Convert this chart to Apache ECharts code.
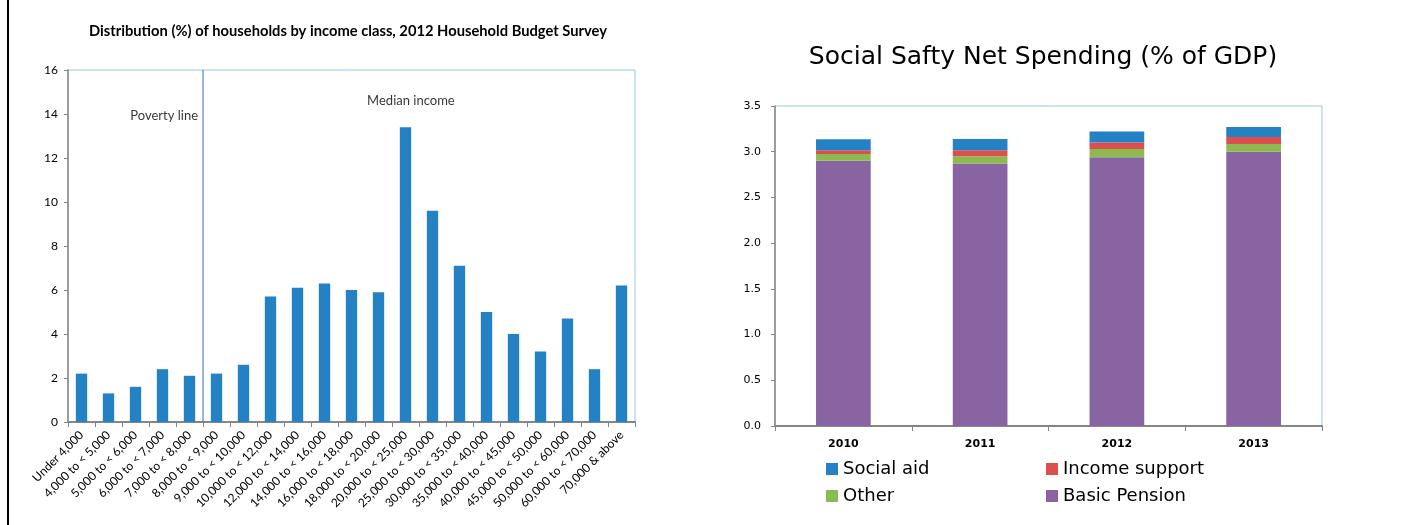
<!DOCTYPE html>
<html>
<head>
<meta charset="utf-8">
<script src="https://cdn.jsdelivr.net/npm/echarts@6/dist/echarts.min.js"></script>
<style>
  html, body { margin: 0; padding: 0; background: #fff; }
  #chart { width: 1415px; height: 525px; }
  #edge { position: absolute; left: 7px; top: 0; width: 2px; height: 525px; background: #000; }
</style>
</head>
<body>
<div id="chart"></div>
<div id="edge"></div>
<script>
// Household income distribution, 2012 Household Budget Survey
const incomeClasses = [
  'Under 4,000', '4,000 to < 5,000', '5,000 to < 6,000', '6,000 to < 7,000',
  '7,000 to < 8,000', '8,000 to < 9,000', '9,000 to < 10,000', '10,000 to < 12,000',
  '12,000 to < 14,000', '14,000 to < 16,000', '16,000 to < 18,000', '18,000 to < 20,000',
  '20,000 to < 25,000', '25,000 to < 30,000', '30,000 to < 35,000', '35,000 to < 40,000',
  '40,000 to < 45,000', '45,000 to < 50,000', '50,000 to < 60,000', '60,000 to < 70,000',
  '70,000 & above'
];
const householdShare = [2.2, 1.3, 1.6, 2.4, 2.1, 2.2, 2.6, 5.7, 6.1, 6.3, 6.0, 5.9,
  13.4, 9.6, 7.1, 5.0, 4.0, 3.2, 4.7, 2.4, 6.2];
// Poverty line sits after the first five income classes
const povertyLineAfterClass = 5;

// Social safety net spending, % of GDP
const years = ['2010', '2011', '2012', '2013'];
const basicPension = [2.90, 2.87, 2.94, 3.00];
const otherSpending = [0.075, 0.08, 0.09, 0.085];
const incomeSupport = [0.04, 0.065, 0.07, 0.075];
const socialAid = [0.12, 0.125, 0.12, 0.11];

const HUMANIST = 'Lato, "Open Sans", sans-serif';
const WIDE = '"DejaVu Sans", Verdana, sans-serif';
const AXIS_GRAY = '#868686';
const FRAME_BLUE = '#9cc3e4';

const chart = echarts.init(document.getElementById('chart'), null, { renderer: 'canvas' });

function legendAt(name, left, top) {
  return {
    data: [name], left: left, top: top, padding: 0,
    icon: 'rect', itemWidth: 12, itemHeight: 12, itemGap: 0,
    textStyle: { fontFamily: WIDE, fontSize: 18, color: '#000' },
    selectedMode: false
  };
}

chart.setOption({
  animation: false,
  backgroundColor: '#fff',
  title: [
    {
      text: 'Social Safty Net Spending (% of GDP)',
      left: 1043, top: 45, textAlign: 'center', padding: 0,
      textStyle: { fontFamily: WIDE, fontWeight: 'normal', fontSize: 25, color: '#000' }
    }
  ],
  // Left-hand heading, set in a bold face and slightly narrowed
  graphic: [
    {
      type: 'text', x: 348, y: 31, scaleX: 0.92, silent: true,
      style: {
        text: 'Distribution (%) of households by income class, 2012 Household Budget Survey',
        align: 'center', verticalAlign: 'middle',
        textAlign: 'center', textVerticalAlign: 'middle',
        font: 'bold 16px Lato, "Open Sans", sans-serif', fill: '#000'
      }
    }
  ],
  legend: [
    legendAt('Social aid', 826, 460),
    legendAt('Income support', 1046, 460),
    legendAt('Other', 826, 487),
    legendAt('Basic Pension', 1046, 487)
  ],
  grid: [
    { left: 68, top: 70, width: 567, height: 352, show: true, borderColor: FRAME_BLUE, borderWidth: 1, backgroundColor: 'transparent' },
    { left: 775, top: 106, width: 547, height: 320, show: true, borderColor: FRAME_BLUE, borderWidth: 1, backgroundColor: 'transparent' }
  ],
  xAxis: [
    {
      type: 'category', gridIndex: 0, data: incomeClasses,
      axisLine: { lineStyle: { color: AXIS_GRAY, width: 2 } },
      axisTick: { show: true, length: 5, lineStyle: { color: AXIS_GRAY } },
      axisLabel: { interval: 0, rotate: 45, margin: 11, fontFamily: HUMANIST, fontSize: 12, color: '#000' }
    },
    {
      // continuous scale over the same categories, for the poverty line and notes
      type: 'value', gridIndex: 0, min: 0, max: incomeClasses.length, show: false
    },
    {
      type: 'category', gridIndex: 1, data: years,
      axisLine: { lineStyle: { color: AXIS_GRAY, width: 2 } },
      axisTick: { show: true, length: 5, lineStyle: { color: AXIS_GRAY } },
      axisLabel: { margin: 13, fontFamily: WIDE, fontWeight: 'bold', fontSize: 11, color: '#000' }
    }
  ],
  yAxis: [
    {
      type: 'value', gridIndex: 0, min: 0, max: 16, interval: 2,
      axisLine: { show: true, lineStyle: { color: AXIS_GRAY, width: 1.5 } },
      axisTick: { show: true, length: 4, lineStyle: { color: AXIS_GRAY } },
      splitLine: { show: false },
      axisLabel: { margin: 10, fontFamily: HUMANIST, fontSize: 12, color: '#000' }
    },
    {
      type: 'value', gridIndex: 1, min: 0, max: 3.5, interval: 0.5,
      axisLine: { show: true, lineStyle: { color: AXIS_GRAY, width: 1.5 } },
      axisTick: { show: true, length: 4, lineStyle: { color: AXIS_GRAY } },
      splitLine: { show: false },
      axisLabel: { margin: 14, fontFamily: WIDE, fontSize: 11, color: '#000', formatter: v => v.toFixed(1) }
    }
  ],
  series: [
    {
      name: 'Households (%)', type: 'bar', xAxisIndex: 0, yAxisIndex: 0,
      data: householdShare, barWidth: '42%',
      itemStyle: { color: '#2381c4' }
    },
    {
      name: 'Poverty line', type: 'line', xAxisIndex: 1, yAxisIndex: 0,
      data: [[povertyLineAfterClass, 0], [povertyLineAfterClass, 16]],
      symbol: 'none', lineStyle: { color: '#2f74b5', width: 1 }, silent: true
    },
    {
      name: 'Notes', type: 'scatter', xAxisIndex: 1, yAxisIndex: 0, symbolSize: 0, silent: true,
      label: { show: true, fontFamily: HUMANIST, fontSize: 13, color: '#000', formatter: p => p.data.text },
      data: [
        { value: [povertyLineAfterClass, 13.9], text: 'Poverty line', label: { position: 'left', distance: 5 } },
        { value: [12.7, 14.6], text: 'Median income', label: { position: 'inside' } }
      ]
    },
    {
      name: 'Basic Pension', type: 'bar', stack: 'ssn', xAxisIndex: 2, yAxisIndex: 1,
      data: basicPension, barWidth: '40%', itemStyle: { color: '#8964a3' }
    },
    {
      name: 'Other', type: 'bar', stack: 'ssn', xAxisIndex: 2, yAxisIndex: 1,
      data: otherSpending, barWidth: '40%', itemStyle: { color: '#8cba4f' }
    },
    {
      name: 'Income support', type: 'bar', stack: 'ssn', xAxisIndex: 2, yAxisIndex: 1,
      data: incomeSupport, barWidth: '40%', itemStyle: { color: '#dc4f4e' }
    },
    {
      name: 'Social aid', type: 'bar', stack: 'ssn', xAxisIndex: 2, yAxisIndex: 1,
      data: socialAid, barWidth: '40%', itemStyle: { color: '#2381c4' }
    }
  ]
});
</script>
</body>
</html>
